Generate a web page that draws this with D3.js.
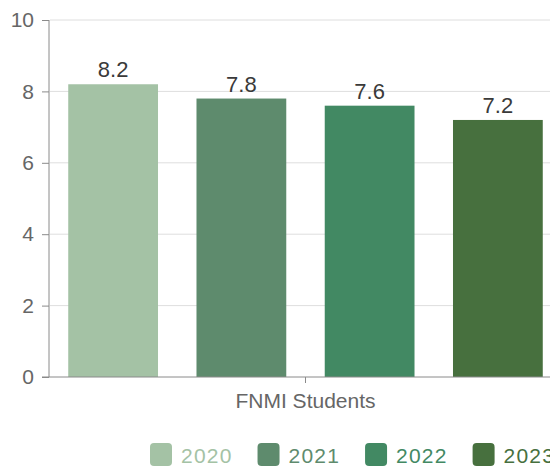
<!DOCTYPE html>
<html>
<head>
<meta charset="utf-8">
<script src="https://cdn.jsdelivr.net/npm/d3@7"></script>
<style>
  html, body { margin: 0; padding: 0; background: #fff; }
  svg { display: block; }
  text { font-family: "Liberation Sans", Arial, sans-serif; }
</style>
</head>
<body>
<svg id="chart" width="550" height="468"></svg>
<script>
// Data
const category = ["FNMI Students"];
const years = ["2020", "2021", "2022", "2023"];
const values = [8.2, 7.8, 7.6, 7.2];
const colors = ["#a4c2a5", "#5e8b6d", "#428963", "#47703e"];
const yTicks = [0, 2, 4, 6, 8, 10];

const svg = d3.select("#chart");
const plotLeft = 49, plotRight = 562, plotTop = 20, plotBottom = 377;

const y = d3.scaleLinear().domain([0, 10]).range([plotBottom, plotTop]);
const x0 = d3.scaleBand().domain(category).range([plotLeft, plotRight]);
const x1 = d3.scaleBand().domain(years).range([plotLeft, plotRight])
  .paddingInner(0.3).paddingOuter(0.15);

// Gridlines
svg.append("g").selectAll("line").data(yTicks.filter(d => d > 0)).join("line")
  .attr("x1", plotLeft + 1).attr("x2", 550)
  .attr("y1", d => y(d)).attr("y2", d => y(d))
  .attr("stroke", "#dedede").attr("stroke-width", 1);

// Y axis
const yAxis = d3.axisLeft(y).tickValues(yTicks).tickSize(7).tickPadding(8);
const gy = svg.append("g").attr("transform", `translate(${plotLeft},0)`).call(yAxis);
gy.select(".domain").attr("stroke", "#8a8a8a").attr("d", `M0,${plotTop}V${plotBottom}`);
gy.selectAll(".tick line").attr("stroke", "#8a8a8a");
gy.selectAll(".tick text").attr("fill", "#666").attr("font-size", 21)
  .attr("font-family", "Liberation Sans, Arial, sans-serif");

// Bars
svg.append("g").selectAll("rect").data(years).join("rect")
  .attr("x", d => x1(d))
  .attr("width", x1.bandwidth())
  .attr("y", (d, i) => y(values[i]))
  .attr("height", (d, i) => y(0) - y(values[i]))
  .attr("fill", (d, i) => colors[i]);

// Value labels
svg.append("g").selectAll("text").data(years).join("text")
  .attr("x", d => x1(d) + x1.bandwidth() / 2)
  .attr("y", (d, i) => y(values[i]) - 7)
  .attr("text-anchor", "middle")
  .attr("font-size", 22)
  .attr("fill", "#3a3a3a")
  .text((d, i) => values[i]);

// X axis
const xAxis = d3.axisBottom(x0).tickSize(6).tickPadding(10);
const gx = svg.append("g").attr("transform", `translate(0,${plotBottom})`).call(xAxis);
gx.select(".domain").attr("stroke", "#8a8a8a").attr("d", `M${plotLeft - 7},0H550`);
gx.selectAll(".tick line").attr("stroke", "#8a8a8a");
gx.selectAll(".tick text").attr("fill", "#666").attr("font-size", 21)
  .attr("font-family", "Liberation Sans, Arial, sans-serif");

// Legend
const legend = svg.append("g").attr("transform", "translate(150,443)");
let lx = 0;
years.forEach((yr, i) => {
  const g = legend.append("g").attr("transform", `translate(${lx},0)`);
  g.append("rect").attr("width", 22).attr("height", 23).attr("rx", 4)
    .attr("fill", colors[i]);
  const t = g.append("text").attr("x", 31).attr("y", 20)
    .attr("font-family", "Open Sans, sans-serif")
    .attr("font-size", 21).attr("letter-spacing", 1.2)
    .attr("fill", colors[i]).text(yr);
  lx += 31 + t.node().getComputedTextLength() + 25;
});
</script>
</body>
</html>
